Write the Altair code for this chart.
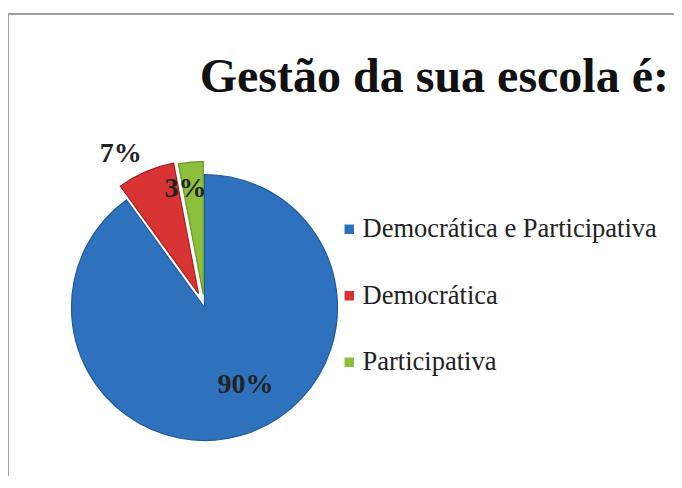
import math
import altair as alt
import pandas as pd

# ---- data ----
categories = ["Democrática e Participativa", "Democrática", "Participativa"]
values = [90, 7, 3]
label_texts = ["90%", "7%", "3%"]

# ---- styles ----
colors = ["#2E72BE", "#D93434", "#8CC03C"]
strokes = ["#1F5A9C", "#A82020", "#6A9A28"]
explode = [0, 15, 13]            # px offset of exploded slices
label_radius = [88, 175, 120]    # px from pie centre
label_shift = [-9.7, -5.2, -3.7] # degrees, label angle tweak
CX, CY, R = 196.5, 299.5, 133

W, H = 666, 468

df = pd.DataFrame({"cat": categories, "value": values, "label": label_texts,
                   "i": list(range(len(categories)))})

def arr(a):
    return "[" + ",".join(str(v) for v in a) + "]"

base = alt.Chart(df).transform_joinaggregate(
    total="sum(value)"
).transform_window(
    end="sum(value)", sort=[alt.SortField("i")], frame=[None, 0]
).transform_calculate(
    a0="(datum.end - datum.value) / datum.total * 2 * PI",
    a1="datum.end / datum.total * 2 * PI",
).transform_calculate(
    mid="(datum.a0 + datum.a1) / 2",
    ex=f"{arr(explode)}[datum.i]",
    lr=f"{arr(label_radius)}[datum.i]",
    ls=f"{arr(label_shift)}[datum.i] * PI / 180",
).transform_calculate(
    px=f"{CX} + datum.ex * sin(datum.mid)",
    py=f"{CY} - datum.ex * cos(datum.mid)",
    lx=f"{CX} + datum.lr * sin(datum.mid + datum.ls)",
    ly=f"{CY} - datum.lr * cos(datum.mid + datum.ls)",
)

arcs = base.mark_arc(outerRadius=R, strokeWidth=1.2).encode(
    x=alt.X("px:Q", scale=None),
    y=alt.Y("py:Q", scale=None),
    theta=alt.Theta("a0:Q", scale=None),
    theta2="a1:Q",
    color=alt.Color(
        "cat:N",
        scale=alt.Scale(domain=categories, range=colors),
        sort=categories,
        legend=alt.Legend(
            orient="none", legendX=328, legendY=208, title=None,
            symbolType="square", symbolSize=90, symbolStrokeWidth=0,
            labelFont="Liberation Serif", labelFontSize=26.5, labelColor="#222222",
            labelOffset=0, rowPadding=39.5, padding=0, direction="vertical",
            labelLimit=400,
        ),
    ),
    stroke=alt.Stroke("cat:N", scale=alt.Scale(domain=categories, range=strokes), legend=None),
)

labels = base.mark_text(
    font="Liberation Serif", fontWeight="bold", fontSize=28,
    color="#222222", align="center", baseline="middle",
).encode(
    x=alt.X("lx:Q", scale=None),
    y=alt.Y("ly:Q", scale=None),
    text="label:N",
)

left_border = alt.Chart(df).mark_rule(color="#A0A0A0", strokeWidth=2).encode(
    x=alt.value(0), y=alt.value(5), y2=alt.value(H)
)
top_border = alt.Chart(df).mark_rule(color="#A0A0A0", strokeWidth=2).encode(
    x=alt.value(0), x2=alt.value(W), y=alt.value(6)
)

chart = alt.layer(left_border, top_border, arcs, labels).properties(
    width=W, height=H,
    padding=0,
    autosize="none",
    title=alt.TitleParams(
        "Gestão da sua escola é:",
        font="Liberation Serif", fontWeight="bold", fontSize=48,
        color="#111111", anchor="end", offset=-94, dx=-6,
    ),
).configure_view(stroke=None)

chart.save("out.html", embed_options={"renderer": "svg", "actions": False})
